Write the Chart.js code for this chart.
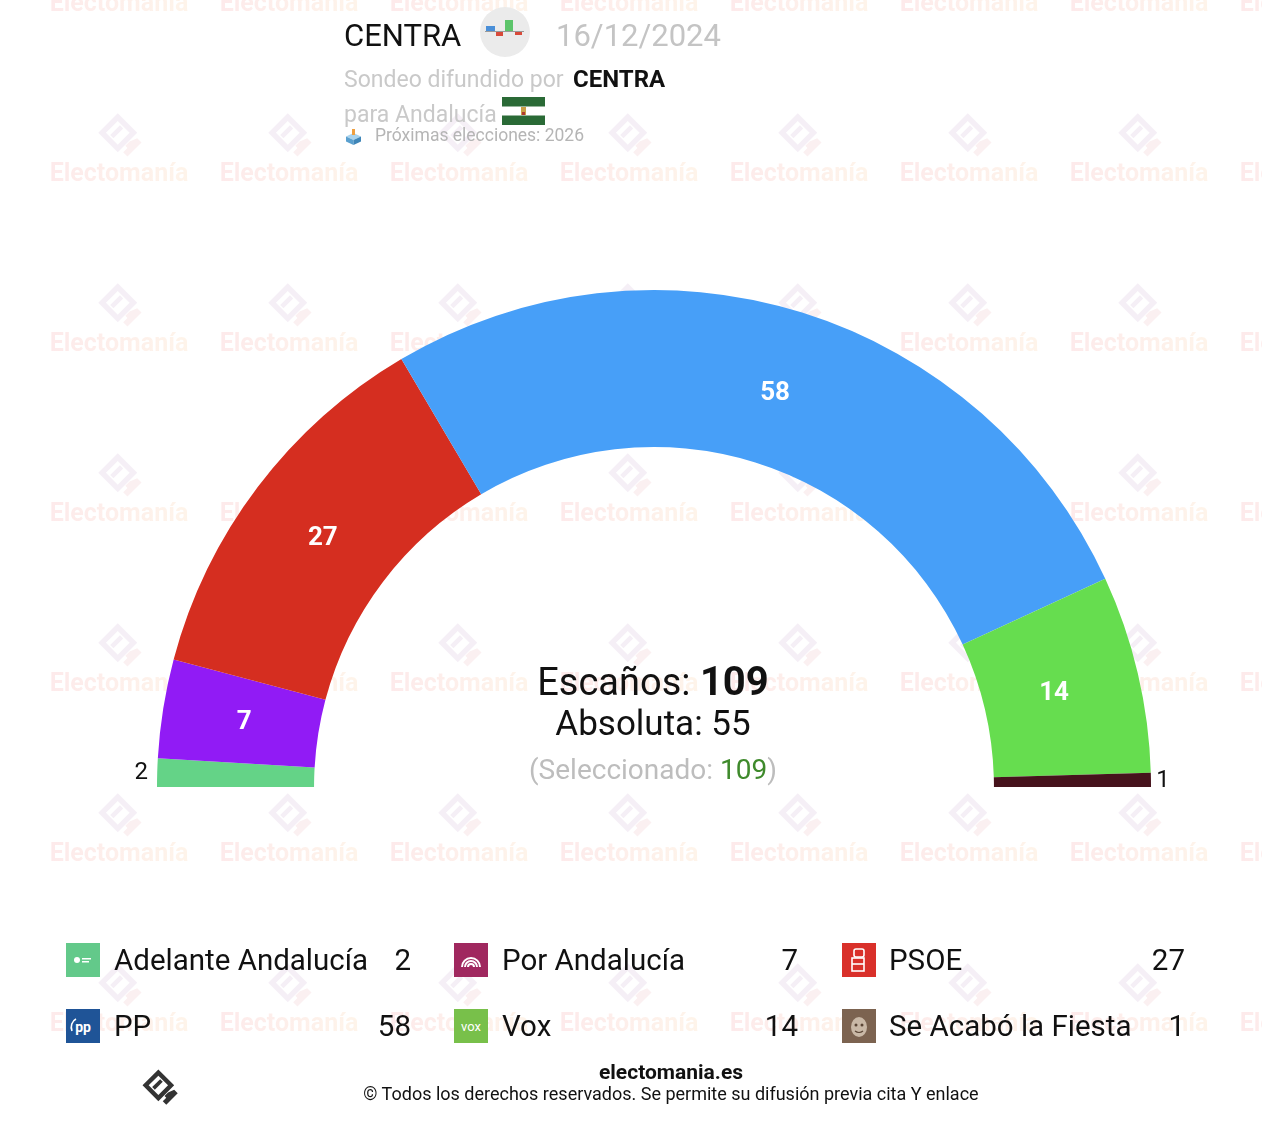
<!DOCTYPE html>
<html><head><meta charset="utf-8">
<script src="https://cdn.jsdelivr.net/npm/chart.js@4.4.1/dist/chart.umd.min.js"></script>
<style>
html,body{margin:0;padding:0}
body{width:1262px;height:1126px;position:relative;background:#fff;font-family:Roboto,"Noto Sans",sans-serif;overflow:hidden}
.abs{position:absolute;white-space:nowrap;line-height:1}
#wm{position:absolute;left:0;top:0;width:1262px;height:1126px}
.wmt{position:absolute;font-weight:bold;font-size:25px;line-height:1;color:#feeeea;background:linear-gradient(90deg,#fdeaeb,#fef4ea);-webkit-background-clip:text;background-clip:text;-webkit-text-fill-color:transparent;transform:translateX(-50%);white-space:nowrap}
.wml{position:absolute;width:54px;height:54px}
#c{position:absolute;left:0;top:0}
.ctr{position:absolute;left:653px;transform:translateX(-50%);white-space:nowrap;line-height:1}
.licon{position:absolute;width:34px;height:34px}
.ltxt{position:absolute;font-size:29.5px;line-height:1;color:#111;white-space:nowrap}
.lval{position:absolute;font-size:29.5px;line-height:1;color:#111;white-space:nowrap;text-align:right;width:80px}
</style></head><body>
<div id="wm"></div>
<canvas id="c" width="1262" height="1126"></canvas>

<!-- header -->
<div class="abs" style="left:344px;top:20px;font-size:31px;color:#111">CENTRA</div>
<svg class="abs" style="left:480px;top:7px" width="50" height="50" viewBox="0 0 50 50">
  <circle cx="25" cy="25" r="25" fill="#ebebeb"/>
  <line x1="5" y1="24.5" x2="44" y2="24.5" stroke="#9a9a9a" stroke-width="1"/>
  <rect x="6" y="19" width="9" height="5" fill="#4a8fd8"/>
  <rect x="16" y="25" width="7" height="4" fill="#d84a3a"/>
  <rect x="25" y="13" width="8" height="11" fill="#5cc46a"/>
  <rect x="35" y="25" width="7" height="3" fill="#d84a3a"/>
</svg>
<div class="abs" style="left:556px;top:20px;font-size:31px;color:#c4c4c4">16/12/2024</div>
<div class="abs" style="left:344px;top:68px;font-size:23px;color:#c9c9c9">Sondeo difundido por</div>
<div class="abs" style="left:573px;top:67px;font-size:24px;color:#111;font-weight:bold">CENTRA</div>
<div class="abs" style="left:344px;top:103px;font-size:23px;color:#c9c9c9">para Andalucía</div>
<svg class="abs" style="left:502px;top:97px" width="43" height="28" viewBox="0 0 43 28">
  <rect width="43" height="28" fill="#2a6a36"/>
  <rect y="9.5" width="43" height="9" fill="#fff"/>
  <rect x="19" y="10" width="5" height="8" fill="#c9a046"/>
  <rect x="20" y="15" width="3" height="3" fill="#b03a2e"/>
</svg>
<svg class="abs" style="left:345px;top:128px" width="17" height="17" viewBox="0 0 17 17">
  <polygon points="8.5,5 16,8.5 8.5,12 1,8.5" fill="#a9d3ee"/>
  <polygon points="1,8.5 8.5,12 8.5,17 1,13.5" fill="#5aa0cf"/>
  <polygon points="16,8.5 8.5,12 8.5,17 16,13.5" fill="#3f86b8"/>
  <rect x="7" y="1" width="3" height="6" fill="#f0a040"/>
</svg>
<div class="abs" style="left:375px;top:127px;font-size:17.5px;color:#b5b5b5">Próximas elecciones: 2026</div>

<!-- centre text -->
<div class="ctr" style="top:662px;font-size:38px;color:#111">Escaños: <b style="font-size:40px">109</b></div>
<div class="ctr" id="abs" style="top:706px;font-size:35px;color:#111"></div>
<div class="ctr" id="sel" style="top:756px;font-size:28px;color:#bdbdbd"></div>

<div id="legend"></div>

<!-- footer -->
<svg class="abs" style="left:139px;top:1066px" width="44" height="44" viewBox="0 0 50 50">
  <g fill="#333">
    <path d="M22 4 L40 22 L22 40 L4 22 Z M22 11 L11 22 L22 33 L33 22 Z" fill-rule="evenodd"/>
    <path d="M15 24 L24 15 L27 18 L18 27 Z"/>
    <path d="M40 27 L44 31 L31 44 L27 40 L31 36 L29 34 L33 30 Z"/>
  </g>
</svg>
<div class="ctr" style="left:671px;top:1062px;font-size:21px;font-weight:bold;color:#111">electomania.es</div>
<div class="ctr" style="left:671px;top:1085px;font-size:18px;color:#111">© Todos los derechos reservados. Se permite su difusión previa cita Y enlace</div>

<script>
// ---- data ----
const parties = ["Adelante Andalucía", "Por Andalucía", "PSOE", "PP", "Vox", "Se Acabó la Fiesta"];
const seats = [2, 7, 27, 58, 14, 1];
const totalSeats = 109;
const majority = 55;
const selectedSeats = 109;

// ---- styles ----
const arcColors = ["#64d387", "#911bf5", "#d52e20", "#479ff8", "#66dd4f", "#46131c"];
const iconColors = ["#63c98a", "#a0285f", "#d9302a", "#1f5497", "#78c04a", "#7c6350"];
const iconInner = [
  '<circle cx="11" cy="17" r="3" fill="#fff"/><rect x="16" y="15" width="9" height="1.5" fill="#fff"/><rect x="16" y="18" width="7" height="1.5" fill="#fff"/>',
  '<path d="M8 24 A9 9 0 0 1 26 24" stroke="#fff" stroke-width="2" fill="none"/><path d="M11 24 A6 6 0 0 1 23 24" stroke="#fff" stroke-width="2" fill="none"/><path d="M14 24 A3 3 0 0 1 20 24" stroke="#fff" stroke-width="2" fill="none"/>',
  '<rect x="12" y="6" width="10" height="8" rx="2" fill="none" stroke="#fff" stroke-width="1.6"/><rect x="10" y="15" width="12" height="13" fill="none" stroke="#fff" stroke-width="1.6"/><line x1="10" y1="21" x2="22" y2="21" stroke="#fff" stroke-width="1.6"/>',
  '<text x="17" y="23" text-anchor="middle" font-family="Roboto" font-weight="bold" font-size="14" fill="#fff">pp</text><path d="M6 22 A8 9 0 0 1 10 10" stroke="#fff" stroke-width="1.6" fill="none"/>',
  '<text x="17" y="22" text-anchor="middle" font-family="Roboto" font-size="13" fill="#fff">vox</text>',
  '<ellipse cx="17" cy="18" rx="8" ry="10" fill="#c9b8a6"/><circle cx="14" cy="16" r="1.5" fill="#5a4535"/><circle cx="20" cy="16" r="1.5" fill="#5a4535"/><path d="M13 22 Q17 25 21 22" stroke="#5a4535" stroke-width="1.2" fill="none"/>'
];

document.getElementById('abs').textContent = 'Absoluta: ' + majority;
document.getElementById('sel').innerHTML = '(Seleccionado: <span style="color:#3f8a2c">' + selectedSeats + '</span>)';

// watermark
(function(){
  const wm = document.getElementById('wm');
  const logo = '<svg width="54" height="54" viewBox="0 0 50 50"><path d="M22 4 L40 22 L22 40 L4 22 Z M22 11 L11 22 L22 33 L33 22 Z" fill-rule="evenodd" fill="#f5eff6"/><path d="M15 24 L24 15 L27 18 L18 27 Z" fill="#f5eff6"/><path d="M40 27 L44 31 L31 44 L27 40 L31 36 L29 34 L33 30 Z" fill="#fbf0f1"/></svg>';
  let html = '';
  for (let r = 0; r < 7; r++) {
    const cy = 1 + 170 * r;
    for (let c = 0; c < 8; c++) {
      const cx = 119 + 170 * c;
      html += '<div class="wml" style="left:' + (cx - 25) + 'px;top:' + (cy - 62) + 'px">' + logo + '</div>';
      html += '<div class="wmt" style="left:' + cx + 'px;top:' + (cy - 11) + 'px">Electomanía</div>';
    }
  }
  wm.innerHTML = html;
})();

// legend
(function(){
  const iconX = [66, 454, 842], textX = [114, 502, 889], valRight = [411, 798, 1185];
  const rowTop = [943, 1009];
  let html = '';
  parties.forEach((p, i) => {
    const col = i % 3, row = Math.floor(i / 3);
    const top = rowTop[row];
    html += '<svg class="licon" style="left:' + iconX[col] + 'px;top:' + top + 'px" viewBox="0 0 34 34"><rect width="34" height="34" fill="' + iconColors[i] + '"/>' + iconInner[i] + '</svg>';
    html += '<div class="ltxt" style="left:' + textX[col] + 'px;top:' + (top + 3) + 'px">' + p + '</div>';
    html += '<div class="lval" style="left:' + (valRight[col] - 80) + 'px;top:' + (top + 3) + 'px">' + seats[i] + '</div>';
  });
  document.getElementById('legend').innerHTML = html;
})();

const arcLabels = {
  id: 'arcLabels',
  afterDatasetsDraw(chart) {
    const ctx = chart.ctx;
    const meta = chart.getDatasetMeta(0);
    meta.data.forEach((arc, i) => {
      const p = arc.getProps(['x', 'y', 'startAngle', 'endAngle', 'innerRadius', 'outerRadius'], true);
      const mid = (p.startAngle + p.endAngle) / 2;
      const v = seats[i];
      let r, color, font;
      if (v >= 3) { r = p.innerRadius + 0.465 * (p.outerRadius - p.innerRadius); color = '#fff'; font = 'bold 26px Roboto'; }
      else { r = p.outerRadius + 14; color = '#111'; font = '24px Roboto'; }
      ctx.save();
      ctx.font = font; ctx.fillStyle = color; ctx.textAlign = 'center'; ctx.textBaseline = 'middle';
      ctx.fillText(String(v), p.x + Math.cos(mid) * r - 2, p.y + Math.sin(mid) * r + 1);
      ctx.restore();
    });
  }
};

new Chart(document.getElementById('c'), {
  type: 'doughnut',
  data: {
    labels: parties,
    datasets: [{ data: seats, backgroundColor: arcColors, borderWidth: 0, hoverOffset: 0, offset: 0 }]
  },
  options: {
    responsive: false,
    animation: false,
    events: [],
    rotation: -90,
    circumference: 180,
    cutout: '68.4%',
    layout: { padding: { left: 157, right: 111, top: 290, bottom: 339 } },
    plugins: { legend: { display: false }, tooltip: { enabled: false } }
  },
  plugins: [arcLabels]
});
</script>
</body></html>
